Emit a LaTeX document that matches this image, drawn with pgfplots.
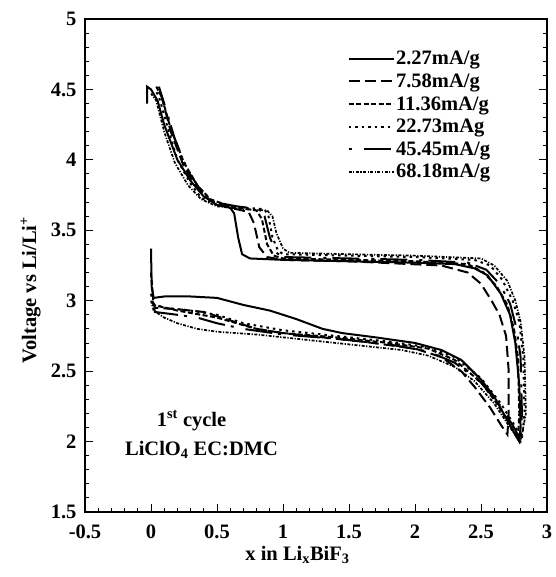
\documentclass[border=0pt]{standalone}
\usepackage{pgfplots}
\pgfplotsset{compat=1.18}
\usepackage{fontspec}
\setmainfont{Liberation Serif}
\begin{document}
\begin{tikzpicture}
\begin{axis}[
  name=ax,
  scale only axis,
  width=462pt, height=493pt,
  xmin=-0.5, xmax=3, ymin=1.5, ymax=5,
  xtick={-0.5,0,0.5,1,1.5,2,2.5,3},
  ytick={1.5,2,2.5,3,3.5,4,4.5,5},
  minor x tick num=4, minor y tick num=4,
  xtick pos=bottom,
  tick align=inside,
  major tick length=8pt, minor tick length=4pt,
  axis line style={line width=1.4pt},
  every tick/.style={line width=0.9pt, black},
  /pgf/number format/assume math mode=true,
  ticklabel style={font=\fontsize{20.5}{24}\selectfont\bfseries},
  xticklabel style={yshift=-9pt},
  yticklabel style={xshift=-5pt},
  label style={font=\fontsize{20.5}{24}\selectfont\bfseries},
  xlabel={x in Li\textsubscript{x}BiF\textsubscript{3}},
  ylabel={Voltage vs Li/Li\textsuperscript{+}},
  xlabel style={at={(axis description cs:0.46,-0.088)}, anchor=center},
  ylabel style={at={(axis description cs:-0.118,0.45)}, anchor=center, rotate=0},
  legend style={at={(axis description cs:0.568,0.938)}, anchor=north west, draw=none, fill=none,
    font=\fontsize{20.5}{24}\selectfont\bfseries, inner sep=0pt, row sep=4.5pt,
    nodes={inner sep=1.5pt}},
  legend cell align=left,
  legend image code/.code={\draw[#1] (0pt,0pt) -- (45pt,0pt);},
  every axis plot/.append style={line width=2pt, black},
]
% 2.27 mA/g solid
\addplot[solid] coordinates {
(0.0,3.37) (0.005,3.1) (0.02,3.02) (0.1,3.03) (0.3,3.03) (0.5,3.02) (0.7,2.97) (0.9,2.93) (1.1,2.87) (1.3,2.80) (1.45,2.77) (1.7,2.74) (2.0,2.70) (2.2,2.65) (2.35,2.58) (2.5,2.44) (2.6,2.32) (2.7,2.15) (2.77,2.03) (2.79,2.0)
(2.8,2.1) (2.79,2.4) (2.76,2.7) (2.72,2.9) (2.65,3.05) (2.55,3.18) (2.45,3.23) (2.3,3.26) (2.0,3.27) (1.5,3.28) (1.0,3.29) (0.75,3.30) (0.69,3.33) (0.66,3.45) (0.63,3.62) (0.6,3.66) (0.5,3.68) (0.4,3.74) (0.3,3.85) (0.2,4.0) (0.1,4.25) (0.05,4.42) (0.0,4.5) (-0.03,4.52) (-0.03,4.4)
};
\addlegendentry{2.27mA/g}
% 7.58 mA/g long dash
\addplot[dash pattern=on 11pt off 5pt] coordinates {
(0.01,3.0) (0.03,2.95) (0.2,2.94) (0.4,2.92) (0.6,2.86) (0.8,2.80) (1.0,2.77) (1.3,2.74) (1.6,2.71) (2.0,2.66) (2.2,2.60) (2.35,2.50) (2.45,2.39) (2.57,2.24) (2.65,2.12) (2.70,2.05)
(2.71,2.2) (2.71,2.5) (2.69,2.75) (2.64,2.9) (2.58,3.0) (2.5,3.12) (2.4,3.2) (2.2,3.25) (1.5,3.28) (1.0,3.29) (0.88,3.31) (0.82,3.38) (0.78,3.55) (0.74,3.63) (0.6,3.66) (0.45,3.71) (0.35,3.8) (0.25,3.95) (0.15,4.2) (0.08,4.45) (0.04,4.52)
};
\addlegendentry{7.58mA/g}
% 11.36 mA/g short dash
\addplot[dash pattern=on 5pt off 2.5pt] coordinates {
(0.0,3.2) (0.02,2.97) (0.2,2.93) (0.5,2.88) (0.8,2.80) (1.0,2.77) (1.4,2.74) (1.8,2.70) (2.1,2.66) (2.3,2.58) (2.5,2.42) (2.62,2.27) (2.72,2.12) (2.78,2.02)
(2.79,2.2) (2.78,2.6) (2.75,2.8) (2.7,2.97) (2.62,3.1) (2.52,3.2) (2.4,3.26) (2.0,3.28) (1.5,3.29) (1.0,3.30) (0.93,3.32) (0.88,3.4) (0.84,3.58) (0.8,3.64) (0.6,3.67) (0.45,3.72) (0.35,3.82) (0.25,3.98) (0.15,4.22) (0.08,4.45) (0.05,4.5)
};
\addlegendentry{11.36mA/g}
% 22.73 mA/g dotted
\addplot[dash pattern=on 2.5pt off 4pt] coordinates {
(0.01,2.98) (0.1,2.95) (0.3,2.93) (0.5,2.90) (0.7,2.84) (1.0,2.79) (1.4,2.75) (1.8,2.71) (2.1,2.67) (2.3,2.60) (2.5,2.45) (2.65,2.27) (2.75,2.12) (2.81,2.02)
(2.83,2.2) (2.82,2.6) (2.79,2.85) (2.74,3.0) (2.66,3.15) (2.57,3.25) (2.45,3.29) (2.0,3.31) (1.5,3.32) (1.0,3.33) (0.96,3.36) (0.92,3.45) (0.89,3.6) (0.86,3.65) (0.7,3.66) (0.5,3.68) (0.38,3.73) (0.3,3.83) (0.2,4.0) (0.12,4.25) (0.06,4.45) (0.03,4.5)
};
\addlegendentry{22.73mAg}
% 45.45 mA/g dot - long dash
\addplot[dash pattern=on 3pt off 12pt on 27pt off 6pt] coordinates {
(0.0,3.05) (0.03,2.92) (0.2,2.90) (0.35,2.88) (0.5,2.84) (0.7,2.80) (1.0,2.76) (1.4,2.73) (1.8,2.69) (2.1,2.64) (2.3,2.56) (2.5,2.42) (2.65,2.25) (2.75,2.1) (2.8,2.01)
(2.81,2.2) (2.8,2.6) (2.77,2.8) (2.72,2.98) (2.64,3.12) (2.54,3.22) (2.4,3.27) (2.0,3.29) (1.5,3.30) (1.0,3.31) (0.95,3.34) (0.9,3.45) (0.86,3.6) (0.82,3.65) (0.65,3.67) (0.48,3.7) (0.38,3.78) (0.28,3.92) (0.18,4.15) (0.1,4.4) (0.06,4.52)
};
\addlegendentry{45.45mA/g}
% 68.18 mA/g dash-dot-dot
\addplot[line width=1.7pt, dash pattern=on 3pt off 1.5pt on 1.2pt off 1.5pt] coordinates {
(0.0,3.0) (0.02,2.93) (0.1,2.88) (0.2,2.84) (0.35,2.80) (0.5,2.78) (0.8,2.76) (1.0,2.74) (1.3,2.71) (1.6,2.68) (1.9,2.65) (2.1,2.61) (2.3,2.53) (2.45,2.43) (2.6,2.27) (2.72,2.1) (2.8,2.0)
(2.84,2.2) (2.83,2.6) (2.8,2.85) (2.76,3.0) (2.7,3.14) (2.6,3.25) (2.5,3.3) (2.0,3.32) (1.5,3.33) (1.05,3.34) (1.0,3.37) (0.95,3.48) (0.92,3.6) (0.88,3.64) (0.7,3.65) (0.5,3.67) (0.38,3.72) (0.28,3.82) (0.18,3.98) (0.1,4.2) (0.04,4.42) (0.0,4.47)
};
\addlegendentry{68.18mA/g}
\node[font=\fontsize{20.5}{24}\selectfont\bfseries] at (axis cs:0.307,2.15) {1\textsuperscript{st} cycle};
\node[font=\fontsize{20.5}{24}\selectfont\bfseries] at (axis cs:0.383,1.94) {LiClO\textsubscript{4} EC:DMC};
\end{axis}
\path (ax.south west) ++(-85pt,-65pt) coordinate (bl);
\path (ax.north east) ++(6pt,19pt) coordinate (tr);
\path (bl) rectangle (tr);
\end{tikzpicture}
\end{document}
